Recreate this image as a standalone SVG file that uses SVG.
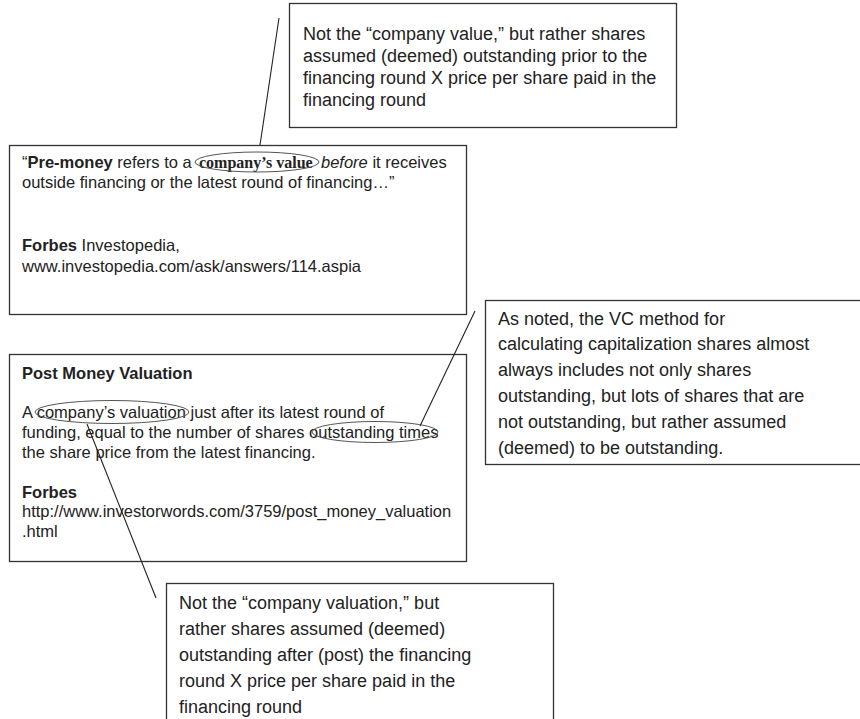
<svg xmlns="http://www.w3.org/2000/svg" width="860" height="719" viewBox="0 0 860 719">
  <style>
    .box { fill: #ffffff; stroke: #333333; stroke-width: 1.3; }
    .conn { fill: none; stroke: #222222; stroke-width: 1.1; }
    .oval { fill: none; stroke: #555555; stroke-width: 1; }
    .t { font-family: "Liberation Sans", Arial, sans-serif; fill: #222222; }
    .s { font-size: 16.5px; }
    .l { font-size: 18px; }
    .b { font-weight: bold; }
    .i { font-style: italic; }
    .tb { font-family: "Liberation Serif", "Times New Roman", serif; font-weight: bold; font-size: 16px; fill: #222222; }
  </style>
  <rect width="860" height="719" fill="#ffffff"/>

  <g id="node-pre-note">
    <rect class="box" x="289.5" y="3.5" width="387" height="124"/>
    <text class="t l" x="303" y="40">Not the “company value,” but rather shares</text>
    <text class="t l" x="303" y="62">assumed (deemed) outstanding prior to the</text>
    <text class="t l" x="303" y="84">financing round X price per share paid in the</text>
    <text class="t l" x="303" y="106">financing round</text>
  </g>

  <g id="node-pre-money">
    <rect class="box" x="9.5" y="145.5" width="457" height="169"/>
    <text class="t s" x="22" y="168">“<tspan class="b">Pre-money</tspan> refers to a</text>
    <text class="tb" x="199" y="168">company’s value</text>
    <text class="t s" x="321" y="168"><tspan class="i">before</tspan> it receives</text>
    <ellipse class="oval" cx="257" cy="162" rx="62" ry="10"/>
    <text class="t s" x="22" y="188">outside financing or the latest round of financing…”</text>
    <text class="t s" x="22" y="251"><tspan class="b">Forbes</tspan> Investopedia,</text>
    <text class="t s" x="22" y="272">www.investopedia.com/ask/answers/114.aspia</text>
  </g>

  <g id="node-post-money">
    <rect class="box" x="9.5" y="354.5" width="457" height="207"/>
    <text class="t s b" x="22" y="379">Post Money Valuation</text>
    <text class="t s" x="22" y="418">A company’s valuation just after its latest round of</text>
    <ellipse class="oval" cx="112" cy="412" rx="77" ry="11.5"/>
    <text class="t s" x="22" y="438">funding, equal to the number of shares outstanding times</text>
    <ellipse class="oval" cx="375" cy="432" rx="63" ry="10.5"/>
    <text class="t s" x="22" y="458">the share price from the latest financing.</text>
    <text class="t s b" x="22" y="498">Forbes</text>
    <text class="t s" x="22" y="517">http://www.investorwords.com/3759/post_money_valuation</text>
    <text class="t s" x="22" y="537">.html</text>
  </g>

  <g id="node-vc-note">
    <rect class="box" x="485.5" y="300.5" width="400" height="164"/>
    <text class="t l" x="498" y="325">As noted, the VC method for</text>
    <text class="t l" x="498" y="350">calculating capitalization shares almost</text>
    <text class="t l" x="498" y="376">always includes not only shares</text>
    <text class="t l" x="498" y="402">outstanding, but lots of shares that are</text>
    <text class="t l" x="498" y="428">not outstanding, but rather assumed</text>
    <text class="t l" x="498" y="454">(deemed) to be outstanding.</text>
  </g>

  <g id="node-post-note">
    <rect class="box" x="166.5" y="583.5" width="387" height="160"/>
    <text class="t l" x="179" y="609">Not the “company valuation,” but</text>
    <text class="t l" x="179" y="635">rather shares assumed (deemed)</text>
    <text class="t l" x="179" y="661">outstanding after (post) the financing</text>
    <text class="t l" x="179" y="687">round X price per share paid in the</text>
    <text class="t l" x="179" y="713">financing round</text>
  </g>

  <g id="connectors">
    <line class="conn" x1="279" y1="18" x2="260" y2="145"/>
    <line class="conn" x1="475" y1="311" x2="420" y2="426"/>
    <line class="conn" x1="87" y1="424" x2="156" y2="598"/>
  </g>
</svg>
